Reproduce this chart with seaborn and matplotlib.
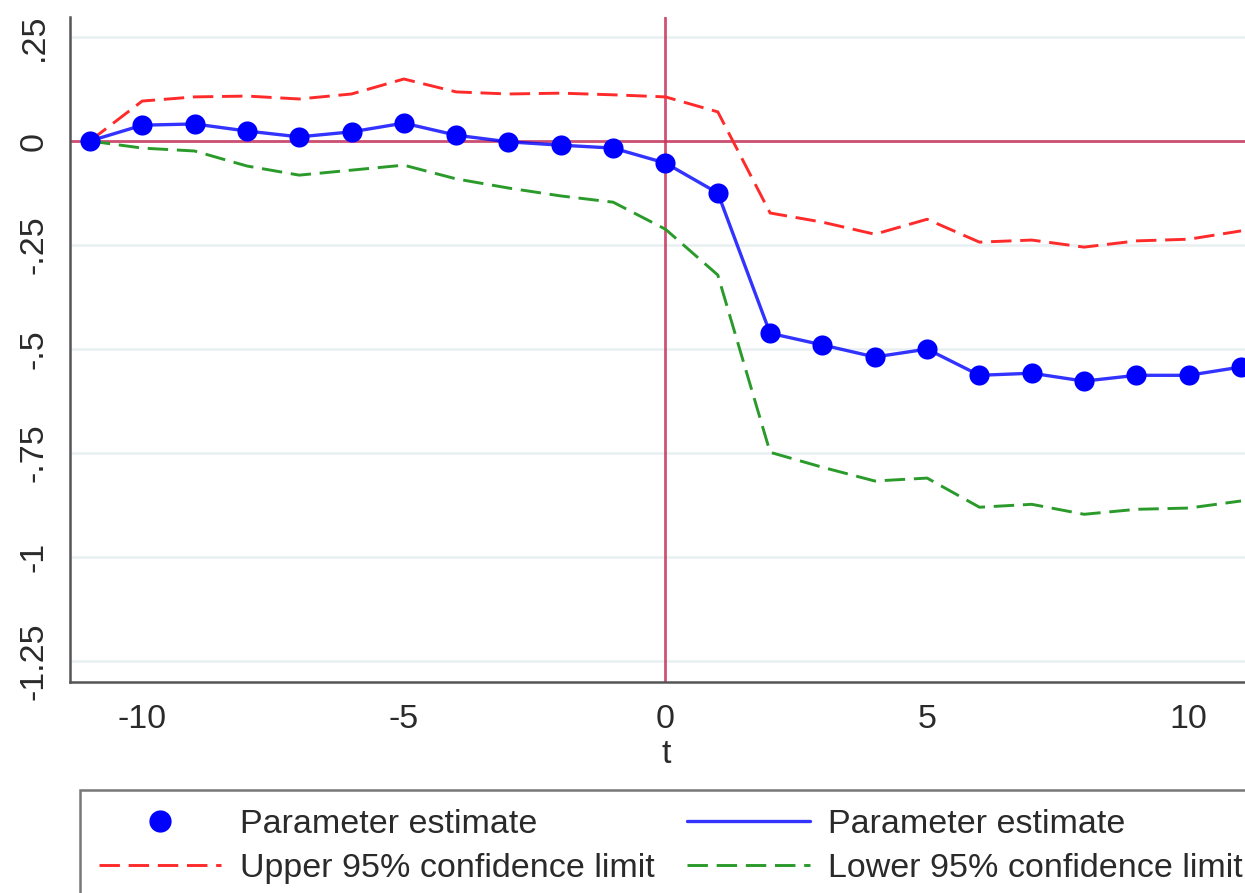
import numpy as np
import pandas as pd
import matplotlib
matplotlib.use('Agg')
import matplotlib.pyplot as plt
from matplotlib.lines import Line2D
import seaborn as sns

# event time
t = list(range(-11, 12))

# point estimates
estimate = [0.000, 0.038, 0.041, 0.024, 0.010, 0.022, 0.043, 0.014, -0.002, -0.010, -0.017,
            -0.053, -0.125, -0.462, -0.490, -0.519, -0.500, -0.563, -0.558, -0.577, -0.563,
            -0.563, -0.543]

# upper / lower 95% confidence limits
upper = [0.000, 0.096, 0.106, 0.108, 0.101, 0.113, 0.149, 0.118, 0.113, 0.115, 0.111,
         0.106, 0.070, -0.173, -0.195, -0.224, -0.188, -0.243, -0.238, -0.255, -0.240,
         -0.236, -0.216]
lower = [0.000, -0.017, -0.024, -0.060, -0.082, -0.070, -0.058, -0.091, -0.113, -0.132, -0.147,
         -0.212, -0.322, -0.748, -0.784, -0.817, -0.810, -0.880, -0.873, -0.897, -0.885,
         -0.882, -0.865]

yticks = [0.25, 0, -0.25, -0.5, -0.75, -1, -1.25]
ytick_labels = ['.25', '0', '-.25', '-.5', '-.75', '-1', '-1.25']
xticks = [-10, -5, 0, 5, 10]

df = pd.DataFrame({'t': t, 'estimate': estimate, 'upper': upper, 'lower': lower})

sns.set_theme(style='white')
plt.rcParams['font.family'] = ['Liberation Sans', 'DejaVu Sans']

FS = 24.5
text_color = '#2a2a2a'

fig = plt.figure(figsize=(12.45, 8.93), dpi=100)
ax = fig.add_axes([70 / 1245, 1 - 682 / 893, 1192 / 1245, 665 / 893])

ref_color = '#c8325a'
for y in yticks:
    ax.axhline(y, color='#e8f0f1', lw=1.8, zorder=0)
ax.axhline(0, color=ref_color, lw=2, alpha=0.85, zorder=1)
ax.axvline(0, color=ref_color, lw=2, alpha=0.85, zorder=1)

red = '#ff2a2a'
green = '#2a9a2a'
blue = '#0000ff'
dash = (7, 3)

sns.lineplot(data=df, x='t', y='upper', ax=ax, color=red, lw=2.1, zorder=2)
sns.lineplot(data=df, x='t', y='lower', ax=ax, color=green, lw=2.1, zorder=2)
for ln in ax.lines[-2:]:
    ln.set_dashes(dash)
sns.lineplot(data=df, x='t', y='estimate', ax=ax, color=blue, lw=2.4, alpha=0.8, zorder=3)
sns.scatterplot(data=df, x='t', y='estimate', ax=ax, color=blue, s=210, linewidth=0, zorder=4)

ax.set_xlim(-11.38, 11.4)
ax.set_ylim(-1.30, 0.298)
ax.set_yticks(yticks)
ax.set_yticklabels(ytick_labels, rotation=90, va='center', fontsize=FS, color=text_color)
ax.set_xticks(xticks)
ax.set_xticklabels([str(v) for v in xticks], fontsize=FS, color=text_color)
ax.set_xlabel('t', fontsize=FS, color=text_color, labelpad=3)
ax.set_ylabel('')
ax.tick_params(axis='both', direction='out', length=10, width=1.3, color='#555555', pad=4.5)
ax.tick_params(axis='x', pad=6)
for side in ['top', 'right']:
    ax.spines[side].set_visible(False)
for side in ['left', 'bottom']:
    ax.spines[side].set_color('#555555')
    ax.spines[side].set_linewidth(1.8)

handles = [
    Line2D([], [], color=blue, marker='o', linestyle='none', markersize=15),
    Line2D([], [], color=red, lw=2.1, dashes=dash),
    Line2D([], [], color=blue, lw=2.4, alpha=0.8),
    Line2D([], [], color=green, lw=2.1, dashes=dash),
]
labels = ['Parameter estimate', 'Upper 95% confidence limit',
          'Parameter estimate', 'Lower 95% confidence limit']
leg = fig.legend(handles, labels, ncol=2, loc='upper left',
                 bbox_to_anchor=(80 / 1245, 1 - 790 / 893), borderaxespad=0,
                 fontsize=FS, handlelength=3.6, handletextpad=0.55, labelspacing=0.38,
                 frameon=True, fancybox=False, borderpad=0.55, columnspacing=0.95)
leg.get_frame().set_edgecolor('#555555')
leg.get_frame().set_linewidth(1.8)
for txt in leg.get_texts():
    txt.set_color(text_color)

fig.savefig('out.png', dpi=100)
